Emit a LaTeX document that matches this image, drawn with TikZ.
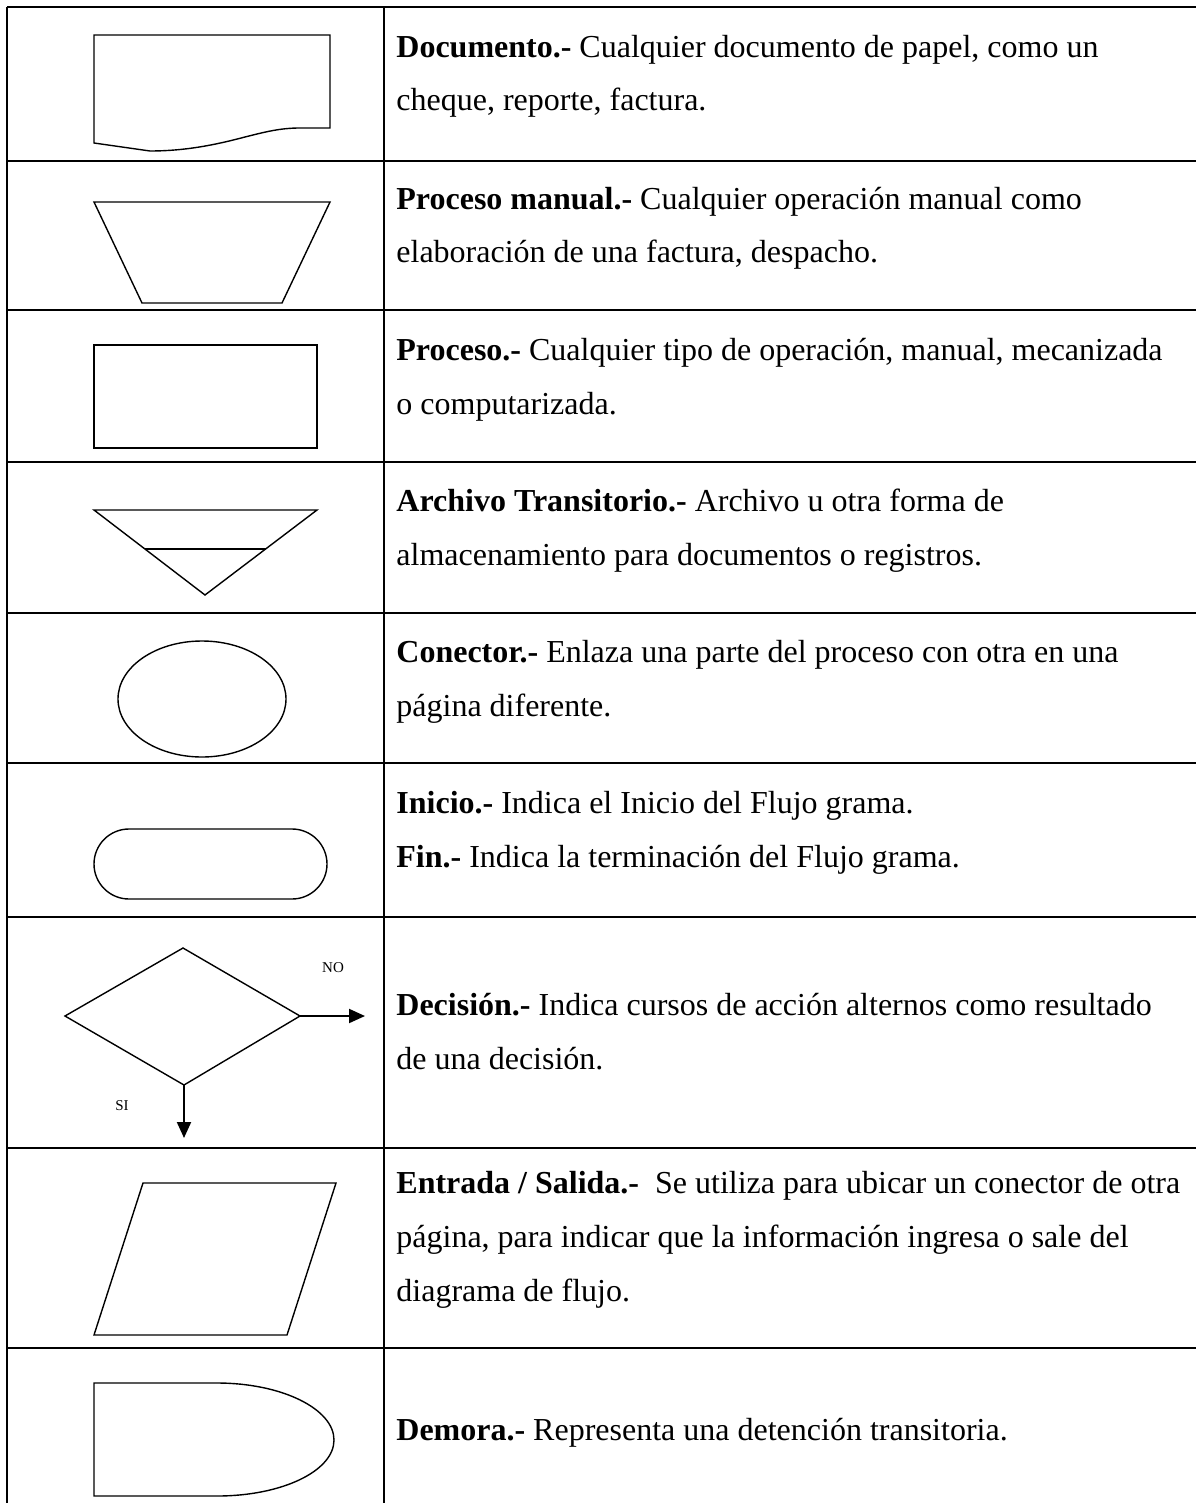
\documentclass[tikz,border=0pt]{standalone}
\usepackage{fontspec}
\setmainfont{Liberation Serif}
\usepackage{tikz}
\usetikzlibrary{positioning,arrows.meta}

\tikzset{
  tabla/.style={line width=1pt},
  simbolo/.style={line width=0.7pt},
  texto/.style={anchor=base west, inner sep=0pt, font=\fontsize{16}{27}\selectfont},
  etiqueta/.style={inner sep=0pt, font=\fontsize{7.5}{9}\selectfont},
  flecha/.style={line width=1pt, -{Triangle[length=8pt,width=7pt]}}
}

\begin{document}
\begin{tikzpicture}[x=0.5pt,y=-0.5pt]
\useasboundingbox (0,0) rectangle (1196,1503);

% tabla
\draw[tabla] (7,7) -- (7,1503);
\draw[tabla] (384,7) -- (384,1503);
\foreach \y in {7,161,310,462,613,763,917,1148,1348}
  \draw[tabla] (7,\y) -- (1196,\y);

% documento
\draw[simbolo] (94,143) -- (94,35) -- (330,35) -- (330,128) -- (300,128)
  .. controls (280,128) and (265,132) .. (245,137)
  .. controls (215,145) and (185,151) .. (150,151) -- cycle;

% proceso manual
\draw[simbolo] (94,202) -- (330,202) -- (282,303) -- (142,303) -- cycle;

% proceso
\draw[simbolo] (94,345) rectangle (317,448);

% archivo transitorio
\draw[simbolo] (94,510) -- (317,510) -- (205,595) -- cycle;
\draw[simbolo] (145,549) -- (266,549);

% conector
\draw[simbolo] (202,699) ellipse [x radius=42pt, y radius=29pt];

% inicio / fin
\draw[simbolo, rounded corners=17.5pt] (94,829) rectangle (327,899);

% decision
\coordinate (dec-n) at (183,948);
\coordinate (dec-o) at (65,1016);
\coordinate (dec-e) at (300,1016);
\coordinate (dec-s) at (184,1085);
\coordinate (no-fin) at (365,1016);
\coordinate (si-fin) at (184,1138);
\draw[simbolo] (dec-n) -- (dec-e) -- (dec-s) -- (dec-o) -- cycle;
\draw[flecha] (dec-e) -- (no-fin);
\draw[flecha] (dec-s) -- (si-fin);
\node[etiqueta] (no) at (333,968) {NO};
\node[etiqueta] (si) at (122,1106) {SI};

% entrada / salida
\draw[simbolo] (143,1183) -- (336,1183) -- (287,1335) -- (94,1335) -- cycle;

% demora
\draw[simbolo] (217,1383) -- (94,1383) -- (94,1496) -- (217,1496)
  .. controls (282,1496) and (334,1471) .. (334,1440)
  .. controls (334,1409) and (282,1383) .. (217,1383);

% textos
\node[texto] (t1a) at (396,58) {\textbf{Documento.-} Cualquier documento de papel, como un};
\node[texto] (t1b) at (396,111) {cheque, reporte, factura.};
\node[texto] (t2a) at (396,210) {\textbf{Proceso manual.-} Cualquier operación manual como};
\node[texto] (t2b) at (396,263) {elaboración de una factura, despacho.};
\node[texto] (t3a) at (396,360) {\textbf{Proceso.-} Cualquier tipo de operación, manual, mecanizada};
\node[texto] (t3b) at (396,414) {o computarizada.};
\node[texto] (t4a) at (396,511) {\textbf{Archivo Transitorio.-} Archivo u otra forma de};
\node[texto] (t4b) at (396,565) {almacenamiento para documentos o registros.};
\node[texto] (t5a) at (396,662) {\textbf{Conector.-} Enlaza una parte del proceso con otra en una};
\node[texto] (t5b) at (396,716) {página diferente.};
\node[texto] (t6a) at (396,813) {\textbf{Inicio.-} Indica el Inicio del Flujo grama.};
\node[texto] (t6b) at (396,867) {\textbf{Fin.-} Indica la terminación del Flujo grama.};
\node[texto] (t7a) at (396,1015) {\textbf{Decisión.-} Indica cursos de acción alternos como resultado};
\node[texto] (t7b) at (396,1069) {de una decisión.};
\node[texto] (t8a) at (396,1193) {\textbf{Entrada / Salida.-}\ \ Se utiliza para ubicar un conector de otra};
\node[texto] (t8b) at (396,1247) {página, para indicar que la información ingresa o sale del};
\node[texto] (t8c) at (396,1301) {diagrama de flujo.};
\node[texto] (t9a) at (396,1440) {\textbf{Demora.-} Representa una detención transitoria.};

\end{tikzpicture}
\end{document}
